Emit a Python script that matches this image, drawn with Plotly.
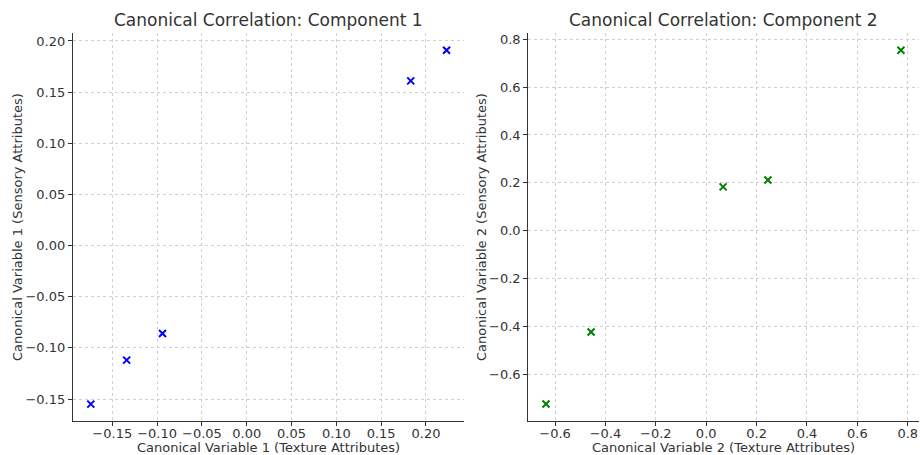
import plotly.graph_objects as go

# Component 1
x1 = [0.223, 0.183, -0.094, -0.134, -0.174]
y1 = [0.191, 0.161, -0.086, -0.112, -0.155]
# Component 2
x2 = [0.773, 0.245, 0.067, -0.457, -0.636]
y2 = [0.754, 0.212, 0.183, -0.423, -0.724]

ticks1x = [-0.15, -0.10, -0.05, 0.00, 0.05, 0.10, 0.15, 0.20]
ticks1y = [-0.15, -0.10, -0.05, 0.00, 0.05, 0.10, 0.15, 0.20]
ticks2x = [-0.6, -0.4, -0.2, 0.0, 0.2, 0.4, 0.6, 0.8]
ticks2y = [-0.6, -0.4, -0.2, 0.0, 0.2, 0.4, 0.6, 0.8]

def fmt(v, d):
    s = f"{v:.{d}f}"
    return s.replace("-", "\u2212")

fig = go.Figure()
fig.add_trace(go.Scatter(x=x1, y=y1, mode="markers", xaxis="x", yaxis="y",
                         marker=dict(symbol="x-thin-open", size=7, color="blue",
                                     line=dict(width=2, color="blue")),
                         showlegend=False))
fig.add_trace(go.Scatter(x=x2, y=y2, mode="markers", xaxis="x2", yaxis="y2",
                         marker=dict(symbol="x-thin-open", size=7, color="green",
                                     line=dict(width=2, color="green")),
                         showlegend=False))

font_family = "DejaVu Sans"
axis_common = dict(showgrid=True, gridcolor="#d0d0d0", griddash="dot", gridwidth=0.8,
                   zeroline=False, ticks="outside", ticklen=4, tickcolor="#333",
                   tickfont=dict(size=13, color="#333", family=font_family),
                   showline=True, linecolor="#333", linewidth=1.2, mirror=False,
                   automargin=False)

D1 = [0.0793, 0.5043]
D2 = [0.5743, 0.999]
DY = [0.0747, 0.9275]

fig.update_layout(
    width=920, height=455,
    margin=dict(l=0, r=0, t=0, b=0),
    paper_bgcolor="white", plot_bgcolor="white",
    font=dict(family=font_family, color="#333"),
    xaxis=dict(domain=D1, range=[-0.1939, 0.2424], anchor="y",
               tickvals=ticks1x, ticktext=[fmt(v, 2) for v in ticks1x],
               ticklabelstandoff=-4, **axis_common),
    yaxis=dict(domain=DY, range=[-0.1715, 0.2078], anchor="x",
               tickvals=ticks1y, ticktext=[fmt(v, 2) for v in ticks1y],
               **axis_common),
    xaxis2=dict(domain=D2, range=[-0.706, 0.845], anchor="y2",
                tickvals=ticks2x, ticktext=[fmt(v, 1) for v in ticks2x],
                ticklabelstandoff=-4, **axis_common),
    yaxis2=dict(domain=DY, range=[-0.795, 0.826], anchor="x2",
                tickvals=ticks2y, ticktext=[fmt(v, 1) for v in ticks2y],
                **axis_common),
)

ymid = (DY[0] + DY[1]) / 2
ann = [
    dict(text="Canonical Correlation: Component 1", x=(D1[0] + D1[1]) / 2, y=1 - 20 / 455,
         size=17),
    dict(text="Canonical Correlation: Component 2", x=(D2[0] + D2[1]) / 2, y=1 - 20 / 455,
         size=17),
    dict(text="Canonical Variable 1 (Texture Attributes)", x=268 / 920, y=1 - 447 / 455,
         size=13),
    dict(text="Canonical Variable 2 (Texture Attributes)", x=723 / 920, y=1 - 447 / 455,
         size=13),
    dict(text="Canonical Variable 1 (Sensory Attributes)", x=18 / 920, y=ymid,
         size=13, angle=-90),
    dict(text="Canonical Variable 2 (Sensory Attributes)", x=482 / 920, y=ymid,
         size=13, angle=-90),
]
for a in ann:
    fig.add_annotation(text=a["text"], xref="paper", yref="paper", x=a["x"], y=a["y"],
                       xanchor="center", yanchor="middle", showarrow=False,
                       textangle=a.get("angle", 0),
                       font=dict(size=a["size"], color="#333", family=font_family))

fig.write_html("out.html", config={"displayModeBar": False},
               post_script="document.body.style.margin='0';document.body.style.padding='0';")
